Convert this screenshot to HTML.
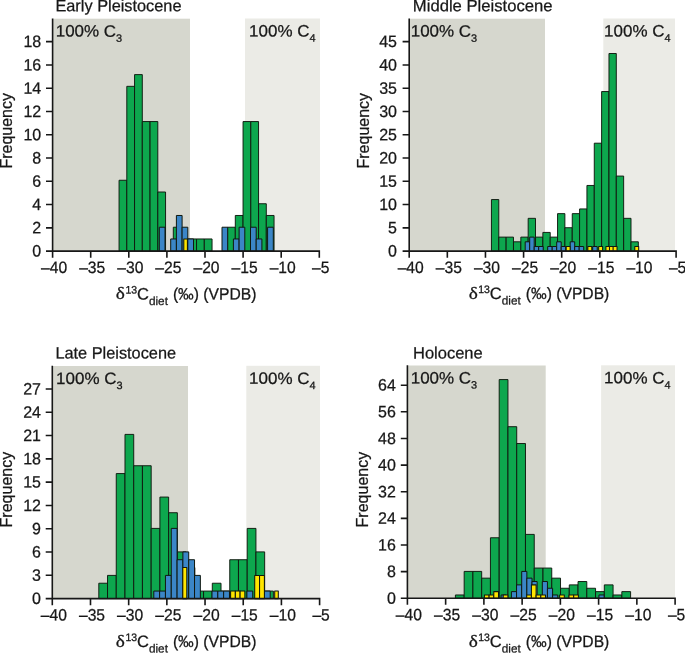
<!DOCTYPE html>
<html lang="en">
<head>
<meta charset="utf-8">
<title>Carbon isotope histograms</title>
<style>
html,body{margin:0;padding:0;background:#fff;}
body{width:685px;height:654px;overflow:hidden;}
svg{display:block;will-change:transform;}
</style>
</head>
<body>
<svg width="685" height="654" viewBox="0 0 685 654" font-family='"Liberation Sans", sans-serif' font-size="16.5" fill="#171717" stroke="#171717" stroke-width="0.26" stroke-linejoin="round">
<rect width="685" height="654" fill="#ffffff" stroke="none"/>
<g><rect x="53" y="18.7" width="137" height="232.4" fill="#d6d7ce" stroke="none"/><rect x="245" y="18.5" width="75" height="232.6" fill="#ebebe6" stroke="none"/><g fill="#0da74e" stroke="#10180f" stroke-width="0.95"><rect x="119.05" y="180.26" width="7.75" height="70.84"/><rect x="126.8" y="86.34" width="7.75" height="164.76"/><rect x="134.55" y="74.6" width="7.75" height="176.5"/><rect x="142.3" y="121.56" width="7.75" height="129.54"/><rect x="150.05" y="121.56" width="7.75" height="129.54"/><rect x="157.8" y="192" width="7.75" height="59.1"/><rect x="173.3" y="227.22" width="7.75" height="23.88"/><rect x="181.05" y="238.96" width="7.75" height="12.14"/><rect x="188.8" y="238.96" width="7.75" height="12.14"/><rect x="196.55" y="238.96" width="7.75" height="12.14"/><rect x="204.3" y="238.96" width="7.75" height="12.14"/><rect x="227.55" y="227.22" width="7.75" height="23.88"/><rect x="235.3" y="215.48" width="7.75" height="35.62"/><rect x="243.05" y="121.56" width="7.75" height="129.54"/><rect x="250.8" y="121.56" width="7.75" height="129.54"/><rect x="258.55" y="203.74" width="7.75" height="47.36"/><rect x="266.3" y="215.48" width="7.75" height="35.62"/></g><g fill="#3b86c7" stroke="#10180f" stroke-width="1"><rect x="159.3" y="227.22" width="5.7" height="23.88"/><rect x="170.7" y="238.96" width="5.7" height="12.14"/><rect x="176.4" y="215.48" width="5.7" height="35.62"/><rect x="182.1" y="227.22" width="5.7" height="23.88"/><rect x="187.8" y="238.96" width="5.7" height="12.14"/><rect x="222" y="227.22" width="5.7" height="23.88"/><rect x="233.4" y="238.96" width="5.7" height="12.14"/><rect x="239.1" y="227.22" width="5.7" height="23.88"/><rect x="250.5" y="227.22" width="5.7" height="23.88"/><rect x="256.2" y="238.96" width="5.7" height="12.14"/><rect x="267.6" y="227.22" width="5.7" height="23.88"/></g><g fill="#ffe500" stroke="#10180f" stroke-width="1.05"><rect x="183.8" y="238.96" width="3.6" height="12.14"/></g><path d="M52.6 18.4V251.1H320.1M46 251.1H52.6M46 227.83H52.6M46 204.56H52.6M46 181.29H52.6M46 158.02H52.6M46 134.75H52.6M46 111.48H52.6M46 88.21H52.6M46 64.94H52.6M46 41.67H52.6M52.6 251.1V257.7M90.7 251.1V257.7M128.8 251.1V257.7M166.9 251.1V257.7M205 251.1V257.7M243.1 251.1V257.7M281.2 251.1V257.7M319.3 251.1V257.7" fill="none" stroke="#171717" stroke-width="1.6"/><text transform="translate(41.2 256.55) rotate(0.03) scale(0.97 1)" text-anchor="end">0</text><text transform="translate(41.2 233.28) rotate(0.03) scale(0.97 1)" text-anchor="end">2</text><text transform="translate(41.2 210.01) rotate(0.03) scale(0.97 1)" text-anchor="end">4</text><text transform="translate(41.2 186.74) rotate(0.03) scale(0.97 1)" text-anchor="end">6</text><text transform="translate(41.2 163.47) rotate(0.03) scale(0.97 1)" text-anchor="end">8</text><text transform="translate(41.2 140.2) rotate(0.03) scale(0.97 1)" text-anchor="end">10</text><text transform="translate(41.2 116.93) rotate(0.03) scale(0.97 1)" text-anchor="end">12</text><text transform="translate(41.2 93.66) rotate(0.03) scale(0.97 1)" text-anchor="end">14</text><text transform="translate(41.2 70.39) rotate(0.03) scale(0.97 1)" text-anchor="end">16</text><text transform="translate(41.2 47.12) rotate(0.03) scale(0.97 1)" text-anchor="end">18</text><text transform="translate(54.1 273.05) rotate(0.03) scale(0.95 1)" text-anchor="middle">–40</text><text transform="translate(92.2 273.05) rotate(0.03) scale(0.95 1)" text-anchor="middle">–35</text><text transform="translate(130.3 273.05) rotate(0.03) scale(0.95 1)" text-anchor="middle">–30</text><text transform="translate(168.4 273.05) rotate(0.03) scale(0.95 1)" text-anchor="middle">–25</text><text transform="translate(206.5 273.05) rotate(0.03) scale(0.95 1)" text-anchor="middle">–20</text><text transform="translate(244.6 273.05) rotate(0.03) scale(0.95 1)" text-anchor="middle">–15</text><text transform="translate(282.7 273.05) rotate(0.03) scale(0.95 1)" text-anchor="middle">–10</text><text transform="translate(320.8 273.05) rotate(0.03) scale(0.95 1)" text-anchor="middle">–5</text><text transform="translate(55.4 11.25) rotate(0.03) scale(0.99 1)">Early Pleistocene</text><text transform="translate(55.7 36.6) rotate(0.03) scale(1.03 1)">100% C<tspan font-size="10.6" dy="5">3</tspan></text><text transform="translate(315.6 36.6) rotate(0.03) scale(1.03 1)" text-anchor="end">100% C<tspan font-size="10.6" dy="5">4</tspan></text><text transform="translate(12 130.8) rotate(-90) scale(0.97 1)" text-anchor="middle">Frequency</text><text transform="translate(115.8 299.4) scale(1.17 1.04)" font-family='"Liberation Serif", "DejaVu Serif", serif' font-size="16.5">δ</text><text transform="translate(125.4 293.4) rotate(0.03) scale(0.97 1)" font-size="10.8" stroke-width="0.3">13</text><text transform="translate(136.9 299.4) rotate(0.03) scale(1 1)">C</text><text transform="translate(148.9 305.1) rotate(0.03) scale(1 1)" font-size="11.8">diet</text><text transform="translate(172.9 299.4) rotate(0.03) scale(0.95 1)">(‰) (VPDB)</text></g>
<g><rect x="409.6" y="18.7" width="135.4" height="232.4" fill="#d6d7ce" stroke="none"/><rect x="603.3" y="18.5" width="71.7" height="232.6" fill="#ebebe6" stroke="none"/><g fill="#0da74e" stroke="#10180f" stroke-width="0.95"><rect x="491.45" y="199.55" width="7.34" height="51.55"/><rect x="498.79" y="237.11" width="7.34" height="13.99"/><rect x="506.14" y="237.11" width="7.34" height="13.99"/><rect x="513.49" y="241.81" width="7.34" height="9.29"/><rect x="520.83" y="237.11" width="7.34" height="13.99"/><rect x="528.17" y="218.33" width="7.34" height="32.77"/><rect x="535.52" y="237.11" width="7.34" height="13.99"/><rect x="542.87" y="232.42" width="7.34" height="18.68"/><rect x="550.21" y="237.11" width="7.34" height="13.99"/><rect x="557.55" y="213.63" width="7.34" height="37.47"/><rect x="564.9" y="227.72" width="7.34" height="23.38"/><rect x="572.25" y="213.63" width="7.34" height="37.47"/><rect x="579.59" y="208.94" width="7.34" height="42.16"/><rect x="586.93" y="185.46" width="7.34" height="65.64"/><rect x="594.28" y="143.19" width="7.34" height="107.91"/><rect x="601.62" y="91.54" width="7.34" height="159.56"/><rect x="608.97" y="53.5" width="7.34" height="197.6"/><rect x="616.31" y="176.07" width="7.34" height="75.03"/><rect x="623.66" y="218.33" width="7.34" height="32.77"/><rect x="631" y="241.81" width="7.34" height="9.29"/></g><g fill="#3b86c7" stroke="#10180f" stroke-width="1"><rect x="525.2" y="241.81" width="4.5" height="9.29"/><rect x="529.7" y="237.11" width="4.5" height="13.99"/><rect x="534.2" y="246.5" width="4.5" height="4.6"/><rect x="538.7" y="246.5" width="4.5" height="4.6"/><rect x="547.7" y="246.5" width="4.5" height="4.6"/><rect x="552.2" y="246.5" width="4.5" height="4.6"/><rect x="556.7" y="241.81" width="4.5" height="9.29"/><rect x="561.2" y="246.5" width="4.5" height="4.6"/><rect x="570.2" y="241.81" width="4.5" height="9.29"/><rect x="574.7" y="246.5" width="4.5" height="4.6"/><rect x="579.2" y="246.5" width="4.5" height="4.6"/><rect x="592.7" y="246.5" width="4.5" height="4.6"/></g><g fill="#ffe500" stroke="#10180f" stroke-width="1.05"><rect x="566.18" y="246.5" width="3.95" height="4.6"/><rect x="587.84" y="246.5" width="3.95" height="4.6"/><rect x="598.67" y="246.5" width="3.95" height="4.6"/><rect x="605.89" y="246.5" width="3.95" height="4.6"/><rect x="609.5" y="246.5" width="3.95" height="4.6"/><rect x="613.11" y="246.5" width="3.95" height="4.6"/><rect x="634.77" y="246.5" width="3.95" height="4.6"/></g><path d="M409.2 18.4V251.1H676.9M402.6 251.1H409.2M402.6 227.83H409.2M402.6 204.56H409.2M402.6 181.29H409.2M402.6 158.02H409.2M402.6 134.75H409.2M402.6 111.48H409.2M402.6 88.21H409.2M402.6 64.94H409.2M402.6 41.67H409.2M409.2 251.1V257.7M447.33 251.1V257.7M485.46 251.1V257.7M523.59 251.1V257.7M561.71 251.1V257.7M599.84 251.1V257.7M637.97 251.1V257.7M676.1 251.1V257.7" fill="none" stroke="#171717" stroke-width="1.6"/><text transform="translate(397 256.55) rotate(0.03) scale(0.97 1)" text-anchor="end">0</text><text transform="translate(397 233.28) rotate(0.03) scale(0.97 1)" text-anchor="end">5</text><text transform="translate(397 210.01) rotate(0.03) scale(0.97 1)" text-anchor="end">10</text><text transform="translate(397 186.74) rotate(0.03) scale(0.97 1)" text-anchor="end">15</text><text transform="translate(397 163.47) rotate(0.03) scale(0.97 1)" text-anchor="end">20</text><text transform="translate(397 140.2) rotate(0.03) scale(0.97 1)" text-anchor="end">25</text><text transform="translate(397 116.93) rotate(0.03) scale(0.97 1)" text-anchor="end">30</text><text transform="translate(397 93.66) rotate(0.03) scale(0.97 1)" text-anchor="end">35</text><text transform="translate(397 70.39) rotate(0.03) scale(0.97 1)" text-anchor="end">40</text><text transform="translate(397 47.12) rotate(0.03) scale(0.97 1)" text-anchor="end">45</text><text transform="translate(410.7 273.05) rotate(0.03) scale(0.95 1)" text-anchor="middle">–40</text><text transform="translate(448.83 273.05) rotate(0.03) scale(0.95 1)" text-anchor="middle">–35</text><text transform="translate(486.96 273.05) rotate(0.03) scale(0.95 1)" text-anchor="middle">–30</text><text transform="translate(525.09 273.05) rotate(0.03) scale(0.95 1)" text-anchor="middle">–25</text><text transform="translate(563.21 273.05) rotate(0.03) scale(0.95 1)" text-anchor="middle">–20</text><text transform="translate(601.34 273.05) rotate(0.03) scale(0.95 1)" text-anchor="middle">–15</text><text transform="translate(639.47 273.05) rotate(0.03) scale(0.95 1)" text-anchor="middle">–10</text><text transform="translate(677.6 273.05) rotate(0.03) scale(0.95 1)" text-anchor="middle">–5</text><text transform="translate(412.8 11.25) rotate(0.03) scale(1.01 1)">Middle Pleistocene</text><text transform="translate(410.7 36.6) rotate(0.03) scale(1.03 1)">100% C<tspan font-size="10.6" dy="5">3</tspan></text><text transform="translate(670.6 36.6) rotate(0.03) scale(1.03 1)" text-anchor="end">100% C<tspan font-size="10.6" dy="5">4</tspan></text><text transform="translate(368.9 130.7) rotate(-90) scale(0.97 1)" text-anchor="middle">Frequency</text><text transform="translate(468.7 298.9) scale(1.17 1.04)" font-family='"Liberation Serif", "DejaVu Serif", serif' font-size="16.5">δ</text><text transform="translate(478.3 292.9) rotate(0.03) scale(0.97 1)" font-size="10.8" stroke-width="0.3">13</text><text transform="translate(489.8 298.9) rotate(0.03) scale(1 1)">C</text><text transform="translate(501.8 304.6) rotate(0.03) scale(1 1)" font-size="11.8">diet</text><text transform="translate(525.8 298.9) rotate(0.03) scale(0.95 1)">(‰) (VPDB)</text></g>
<g><rect x="52.7" y="366" width="135.3" height="232.6" fill="#d6d7ce" stroke="none"/><rect x="246.3" y="365.8" width="73.7" height="232.8" fill="#ebebe6" stroke="none"/><g fill="#0da74e" stroke="#10180f" stroke-width="0.95"><rect x="98.8" y="583.23" width="8.73" height="15.37"/><rect x="107.53" y="575.4" width="8.73" height="23.2"/><rect x="116.26" y="473.57" width="8.73" height="125.03"/><rect x="124.99" y="434.4" width="8.73" height="164.2"/><rect x="133.72" y="465.74" width="8.73" height="132.86"/><rect x="142.45" y="465.74" width="8.73" height="132.86"/><rect x="151.18" y="528.4" width="8.73" height="70.2"/><rect x="159.91" y="497.07" width="8.73" height="101.53"/><rect x="168.64" y="512.73" width="8.73" height="85.87"/><rect x="177.37" y="551.9" width="8.73" height="46.7"/><rect x="186.1" y="567.57" width="8.73" height="31.03"/><rect x="194.83" y="591.07" width="8.73" height="7.53"/><rect x="203.56" y="591.07" width="8.73" height="7.53"/><rect x="212.29" y="583.23" width="8.73" height="15.37"/><rect x="221.02" y="591.07" width="8.73" height="7.53"/><rect x="229.75" y="559.73" width="8.73" height="38.87"/><rect x="238.48" y="559.73" width="8.73" height="38.87"/><rect x="247.21" y="528.4" width="8.73" height="70.2"/><rect x="255.94" y="551.9" width="8.73" height="46.7"/><rect x="264.67" y="591.07" width="8.73" height="7.53"/></g><g fill="#3b86c7" stroke="#10180f" stroke-width="1"><rect x="153.8" y="591.07" width="5.82" height="7.53"/><rect x="159.62" y="591.07" width="5.82" height="7.53"/><rect x="165.44" y="575.4" width="5.82" height="23.2"/><rect x="171.26" y="528.4" width="5.82" height="70.2"/><rect x="177.08" y="559.73" width="5.82" height="38.87"/><rect x="182.9" y="551.9" width="5.82" height="46.7"/><rect x="188.72" y="559.73" width="5.82" height="38.87"/><rect x="194.54" y="575.4" width="5.82" height="23.2"/><rect x="212" y="591.07" width="5.82" height="7.53"/><rect x="217.82" y="591.07" width="5.82" height="7.53"/><rect x="223.64" y="591.07" width="5.82" height="7.53"/><rect x="246.92" y="591.07" width="5.82" height="7.53"/><rect x="264.38" y="591.07" width="5.82" height="7.53"/></g><g fill="#ffe500" stroke="#10180f" stroke-width="1.05"><rect x="182.8" y="567.57" width="4" height="31.03"/><rect x="230.6" y="591.07" width="4.75" height="7.53"/><rect x="235.35" y="591.07" width="4.75" height="7.53"/><rect x="240.1" y="591.07" width="4.75" height="7.53"/><rect x="254.7" y="575.4" width="4.85" height="23.2"/><rect x="259.55" y="575.4" width="4.85" height="23.2"/><rect x="274.7" y="591.07" width="3.6" height="7.53"/></g><path d="M52.3 365.7V598.6H320.4M45.7 598.6H52.3M45.7 575.31H52.3M45.7 552.02H52.3M45.7 528.73H52.3M45.7 505.44H52.3M45.7 482.15H52.3M45.7 458.86H52.3M45.7 435.57H52.3M45.7 412.28H52.3M45.7 388.99H52.3M52.3 598.6V605.2M90.49 598.6V605.2M128.67 598.6V605.2M166.86 598.6V605.2M205.04 598.6V605.2M243.23 598.6V605.2M281.41 598.6V605.2M319.6 598.6V605.2" fill="none" stroke="#171717" stroke-width="1.6"/><text transform="translate(41 604.05) rotate(0.03) scale(0.97 1)" text-anchor="end">0</text><text transform="translate(41 580.76) rotate(0.03) scale(0.97 1)" text-anchor="end">3</text><text transform="translate(41 557.47) rotate(0.03) scale(0.97 1)" text-anchor="end">6</text><text transform="translate(41 534.18) rotate(0.03) scale(0.97 1)" text-anchor="end">9</text><text transform="translate(41 510.89) rotate(0.03) scale(0.97 1)" text-anchor="end">12</text><text transform="translate(41 487.6) rotate(0.03) scale(0.97 1)" text-anchor="end">15</text><text transform="translate(41 464.31) rotate(0.03) scale(0.97 1)" text-anchor="end">18</text><text transform="translate(41 441.02) rotate(0.03) scale(0.97 1)" text-anchor="end">21</text><text transform="translate(41 417.73) rotate(0.03) scale(0.97 1)" text-anchor="end">24</text><text transform="translate(41 394.44) rotate(0.03) scale(0.97 1)" text-anchor="end">27</text><text transform="translate(53.8 620.55) rotate(0.03) scale(0.95 1)" text-anchor="middle">–40</text><text transform="translate(91.99 620.55) rotate(0.03) scale(0.95 1)" text-anchor="middle">–35</text><text transform="translate(130.17 620.55) rotate(0.03) scale(0.95 1)" text-anchor="middle">–30</text><text transform="translate(168.36 620.55) rotate(0.03) scale(0.95 1)" text-anchor="middle">–25</text><text transform="translate(206.54 620.55) rotate(0.03) scale(0.95 1)" text-anchor="middle">–20</text><text transform="translate(244.73 620.55) rotate(0.03) scale(0.95 1)" text-anchor="middle">–15</text><text transform="translate(282.91 620.55) rotate(0.03) scale(0.95 1)" text-anchor="middle">–10</text><text transform="translate(321.1 620.55) rotate(0.03) scale(0.95 1)" text-anchor="middle">–5</text><text transform="translate(55.4 358.55) rotate(0.03) scale(0.99 1)">Late Pleistocene</text><text transform="translate(56.1 383.9) rotate(0.03) scale(1.03 1)">100% C<tspan font-size="10.6" dy="5">3</tspan></text><text transform="translate(315.6 383.9) rotate(0.03) scale(1.03 1)" text-anchor="end">100% C<tspan font-size="10.6" dy="5">4</tspan></text><text transform="translate(11.7 489.6) rotate(-90) scale(0.97 1)" text-anchor="middle">Frequency</text><text transform="translate(115.8 646.9) scale(1.17 1.04)" font-family='"Liberation Serif", "DejaVu Serif", serif' font-size="16.5">δ</text><text transform="translate(125.4 640.9) rotate(0.03) scale(0.97 1)" font-size="10.8" stroke-width="0.3">13</text><text transform="translate(136.9 646.9) rotate(0.03) scale(1 1)">C</text><text transform="translate(148.9 652.6) rotate(0.03) scale(1 1)" font-size="11.8">diet</text><text transform="translate(172.9 646.9) rotate(0.03) scale(0.95 1)">(‰) (VPDB)</text></g>
<g><rect x="407.8" y="365.5" width="137.9" height="232.75" fill="#d6d7ce" stroke="none"/><rect x="601.1" y="365.3" width="73.9" height="232.95" fill="#ebebe6" stroke="none"/><g fill="#0da74e" stroke="#10180f" stroke-width="0.95"><rect x="455.4" y="594.98" width="8.76" height="3.27"/><rect x="464.16" y="571.42" width="8.76" height="26.83"/><rect x="472.92" y="571.42" width="8.76" height="26.83"/><rect x="481.68" y="578.15" width="8.76" height="20.1"/><rect x="490.44" y="537.76" width="8.76" height="60.49"/><rect x="499.2" y="379.57" width="8.76" height="218.68"/><rect x="507.96" y="426.69" width="8.76" height="171.56"/><rect x="516.72" y="443.52" width="8.76" height="154.73"/><rect x="525.48" y="534.4" width="8.76" height="63.85"/><rect x="534.24" y="568.06" width="8.76" height="30.19"/><rect x="543" y="568.06" width="8.76" height="30.19"/><rect x="551.76" y="578.15" width="8.76" height="20.1"/><rect x="560.52" y="588.25" width="8.76" height="10"/><rect x="569.28" y="584.89" width="8.76" height="13.36"/><rect x="578.04" y="581.52" width="8.76" height="16.73"/><rect x="586.8" y="588.25" width="8.76" height="10"/><rect x="595.56" y="591.62" width="8.76" height="6.63"/><rect x="604.32" y="584.89" width="8.76" height="13.36"/><rect x="613.08" y="594.98" width="8.76" height="3.27"/><rect x="621.84" y="591.62" width="8.76" height="6.63"/></g><g fill="#3b86c7" stroke="#10180f" stroke-width="1"><rect x="501.1" y="594.98" width="5.15" height="3.27"/><rect x="511.4" y="591.62" width="5.15" height="6.63"/><rect x="516.55" y="584.89" width="5.15" height="13.36"/><rect x="521.7" y="571.42" width="5.15" height="26.83"/><rect x="526.85" y="578.15" width="5.15" height="20.1"/><rect x="532" y="581.52" width="5.15" height="16.73"/><rect x="542.3" y="581.52" width="5.15" height="16.73"/><rect x="547.45" y="588.25" width="5.15" height="10"/><rect x="552.6" y="594.98" width="5.15" height="3.27"/><rect x="598.95" y="594.98" width="5.15" height="3.27"/></g><g fill="#ffe500" stroke="#10180f" stroke-width="1.05"><rect x="484.4" y="594.98" width="4.7" height="3.27"/><rect x="489.1" y="594.98" width="4.7" height="3.27"/><rect x="493.8" y="591.62" width="4.7" height="6.63"/><rect x="503.2" y="594.98" width="4.7" height="3.27"/><rect x="526.7" y="594.98" width="4.7" height="3.27"/><rect x="531.4" y="584.89" width="4.7" height="13.36"/><rect x="536.1" y="594.98" width="4.7" height="3.27"/><rect x="540.8" y="594.98" width="4.7" height="3.27"/><rect x="559.6" y="594.98" width="4.7" height="3.27"/><rect x="569" y="594.98" width="4.7" height="3.27"/><rect x="573.7" y="594.98" width="4.7" height="3.27"/></g><path d="M407.4 365.2V598.25H675.9M400.8 598.25H407.4M400.8 571.62H407.4M400.8 544.98H407.4M400.8 518.35H407.4M400.8 491.71H407.4M400.8 465.08H407.4M400.8 438.44H407.4M400.8 411.81H407.4M400.8 385.18H407.4M407.4 598.25V604.85M445.64 598.25V604.85M483.89 598.25V604.85M522.13 598.25V604.85M560.37 598.25V604.85M598.61 598.25V604.85M636.86 598.25V604.85M675.1 598.25V604.85" fill="none" stroke="#171717" stroke-width="1.6"/><text transform="translate(395.8 603.7) rotate(0.03) scale(0.97 1)" text-anchor="end">0</text><text transform="translate(395.8 577.07) rotate(0.03) scale(0.97 1)" text-anchor="end">8</text><text transform="translate(395.8 550.43) rotate(0.03) scale(0.97 1)" text-anchor="end">16</text><text transform="translate(395.8 523.8) rotate(0.03) scale(0.97 1)" text-anchor="end">24</text><text transform="translate(395.8 497.16) rotate(0.03) scale(0.97 1)" text-anchor="end">32</text><text transform="translate(395.8 470.53) rotate(0.03) scale(0.97 1)" text-anchor="end">40</text><text transform="translate(395.8 443.89) rotate(0.03) scale(0.97 1)" text-anchor="end">48</text><text transform="translate(395.8 417.26) rotate(0.03) scale(0.97 1)" text-anchor="end">56</text><text transform="translate(395.8 390.63) rotate(0.03) scale(0.97 1)" text-anchor="end">64</text><text transform="translate(408.9 620.25) rotate(0.03) scale(0.95 1)" text-anchor="middle">–40</text><text transform="translate(447.14 620.25) rotate(0.03) scale(0.95 1)" text-anchor="middle">–35</text><text transform="translate(485.39 620.25) rotate(0.03) scale(0.95 1)" text-anchor="middle">–30</text><text transform="translate(523.63 620.25) rotate(0.03) scale(0.95 1)" text-anchor="middle">–25</text><text transform="translate(561.87 620.25) rotate(0.03) scale(0.95 1)" text-anchor="middle">–20</text><text transform="translate(600.11 620.25) rotate(0.03) scale(0.95 1)" text-anchor="middle">–15</text><text transform="translate(638.36 620.25) rotate(0.03) scale(0.95 1)" text-anchor="middle">–10</text><text transform="translate(676.6 620.25) rotate(0.03) scale(0.95 1)" text-anchor="middle">–5</text><text transform="translate(413 358.55) rotate(0.03) scale(1 1)">Holocene</text><text transform="translate(410.7 383.4) rotate(0.03) scale(1.03 1)">100% C<tspan font-size="10.6" dy="5">3</tspan></text><text transform="translate(670.6 383.4) rotate(0.03) scale(1.03 1)" text-anchor="end">100% C<tspan font-size="10.6" dy="5">4</tspan></text><text transform="translate(368.4 489.6) rotate(-90) scale(0.97 1)" text-anchor="middle">Frequency</text><text transform="translate(468.7 646.9) scale(1.17 1.04)" font-family='"Liberation Serif", "DejaVu Serif", serif' font-size="16.5">δ</text><text transform="translate(478.3 640.9) rotate(0.03) scale(0.97 1)" font-size="10.8" stroke-width="0.3">13</text><text transform="translate(489.8 646.9) rotate(0.03) scale(1 1)">C</text><text transform="translate(501.8 652.6) rotate(0.03) scale(1 1)" font-size="11.8">diet</text><text transform="translate(525.8 646.9) rotate(0.03) scale(0.95 1)">(‰) (VPDB)</text></g>
</svg>
</body>
</html>
